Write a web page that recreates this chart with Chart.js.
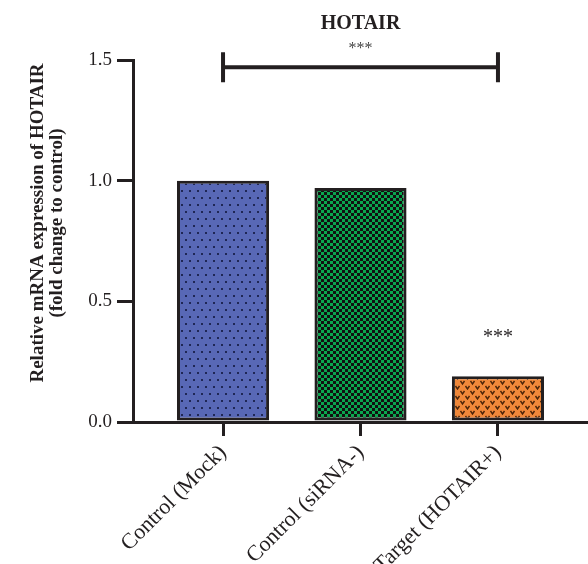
<!DOCTYPE html>
<html>
<head>
<meta charset="utf-8">
<title>HOTAIR</title>
<script src="https://cdn.jsdelivr.net/npm/chart.js@4.4.1/dist/chart.umd.min.js"></script>
<style>
    body { margin: 0; background: #ffffff; }
    #wrap { width: 588px; height: 564px; }
</style>
</head>
<body>
<div id="wrap"><canvas id="myChart" width="588" height="564"></canvas></div>
<script>

var categories = ['Control (Mock)', 'Control (siRNA-)', 'Target (HOTAIR+)'];
var expression = [1.0, 0.97, 0.19];
var yTicks = [0, 0.5, 1.0, 1.5];
var barStars = ['', '', '***'];
var bracketPair = [0, 2];
var bracketLevel = 1.47;
var bracketStars = '***';
var chartTitle = 'HOTAIR';
var yTitle = ['Relative mRNA expression of HOTAIR', '(fold change to control)'];

var ink = '#231f20';
var serif = "'Liberation Serif', 'DejaVu Serif', serif";

// little tiles for the bar fills
function makePattern(w, h, bg, draw) {
    var c = document.createElement('canvas');
    c.width = w;
    c.height = h;
    var g = c.getContext('2d');
    g.fillStyle = bg;
    g.fillRect(0, 0, w, h);
    draw(g);
    return document.getElementById('myChart').getContext('2d').createPattern(c, 'repeat');
}

var dots = makePattern(8, 14, '#5868b6', function (g) {
    g.fillStyle = '#1f2755';
    g.fillRect(1, 1, 2, 2);
    g.fillRect(5, 8, 2, 2);
});

var checker = makePattern(6, 6, '#0aa64e', function (g) {
    g.fillStyle = '#111111';
    g.fillRect(0, 0, 3, 3);
    g.fillRect(3, 3, 3, 3);
});

var vees = makePattern(10, 10, '#f0883a', function (g) {
    g.strokeStyle = '#4a2308';
    g.lineWidth = 1.4;
    g.beginPath();
    g.moveTo(0.5, 1); g.lineTo(2.5, 4); g.lineTo(4.5, 1);
    g.moveTo(5.5, 6); g.lineTo(7.5, 9); g.lineTo(9.5, 6);
    g.stroke();
});

var fills = [dots, checker, vees];

var points = [];
for (var i = 0; i < categories.length; i++) {
    points.push({ x: i, y: expression[i] });
}

// title, axis title, bracket and stars
var marks = {
    id: 'marks',
    afterDatasetsDraw: function (chart) {
        var ctx = chart.ctx;
        var x = chart.scales.x;
        var y = chart.scales.y;
        var x1 = x.getPixelForValue(bracketPair[0]);
        var x2 = x.getPixelForValue(bracketPair[1]);
        var by = y.getPixelForValue(bracketLevel);

        ctx.save();
        ctx.strokeStyle = ink;
        ctx.lineWidth = 4;
        ctx.beginPath();
        ctx.moveTo(x1, by); ctx.lineTo(x2, by);
        ctx.moveTo(x1, by - 15); ctx.lineTo(x1, by + 15);
        ctx.moveTo(x2, by - 15); ctx.lineTo(x2, by + 15);
        ctx.stroke();

        ctx.textAlign = 'center';
        ctx.textBaseline = 'middle';
        ctx.fillStyle = ink;
        ctx.font = 'bold 20px ' + serif;
        ctx.fillText(chartTitle, (x1 + x2) / 2, by - 43);

        ctx.fillStyle = '#444444';
        ctx.font = '16px ' + serif;
        ctx.fillText(bracketStars, (x1 + x2) / 2, by - 18);

        ctx.fillStyle = ink;
        ctx.font = '20px ' + serif;
        for (var i = 0; i < barStars.length; i++) {
            if (barStars[i]) {
                ctx.fillText(barStars[i], x.getPixelForValue(i), y.getPixelForValue(expression[i]) - 38);
            }
        }

        // y axis title sits a bit above the middle of the axis
        ctx.translate(38, y.getPixelForValue(0.75) - 18);
        ctx.rotate(-Math.PI / 2);
        ctx.font = 'bold 19px ' + serif;
        ctx.fillText(yTitle[0], 0, 0);
        ctx.fillText(yTitle[1], 0, 19);
        ctx.restore();
    }
};

const myChart = new Chart(document.getElementById('myChart').getContext('2d'), {
    type: 'bar',
    data: {
        datasets: [{
            data: points,
            backgroundColor: fills,
            borderColor: ink,
            borderWidth: 3,
            borderSkipped: false,
            categoryPercentage: 1,
            barPercentage: 0.67
        }]
    },
    options: {
        responsive: false,
        animation: false,
        layout: { padding: { top: 60, right: 0, left: 0, bottom: 0 } },
        plugins: {
            legend: { display: false },
            tooltip: { enabled: false }
        },
        scales: {
            x: {
                type: 'linear',
                min: -0.655,
                max: 2.655,
                offset: false,
                afterFit: function (scale) { scale.height = 142; },
                afterBuildTicks: function (scale) {
                    scale.ticks = categories.map(function (c, i) { return { value: i }; });
                },
                border: { display: true, color: ink, width: 3 },
                grid: { display: true, drawOnChartArea: false, offset: false, color: ink, lineWidth: 3, tickLength: 14 },
                ticks: {
                    autoSkip: false,
                    minRotation: 45,
                    maxRotation: 45,
                    padding: 4,
                    color: ink,
                    font: { family: serif, size: 22 },
                    callback: function (value) { return categories[value]; }
                }
            },
            y: {
                min: 0,
                max: 1.5,
                afterFit: function (scale) { scale.width = 133; },
                afterBuildTicks: function (scale) {
                    scale.ticks = yTicks.map(function (v) { return { value: v }; });
                },
                border: { display: true, color: ink, width: 3 },
                grid: { display: true, drawOnChartArea: false, color: ink, lineWidth: 3, tickLength: 16 },
                ticks: {
                    padding: 5,
                    color: ink,
                    font: { family: serif, size: 19 },
                    callback: function (value) { return value.toFixed(1); }
                }
            }
        }
    },
    plugins: [marks]
});

</script>
</body>
</html>
